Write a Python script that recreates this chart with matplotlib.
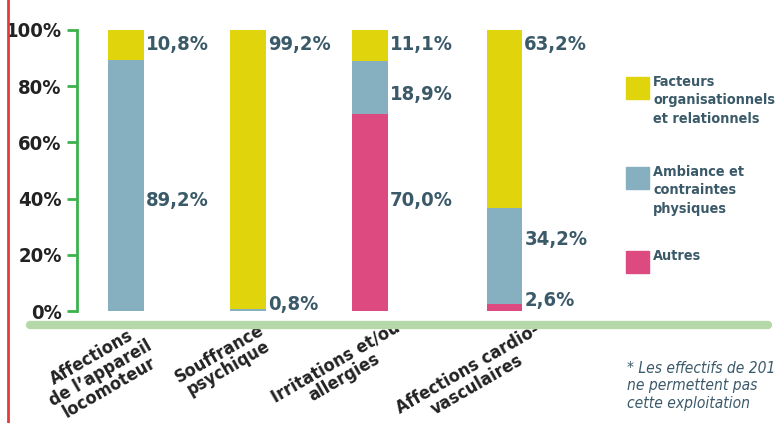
import matplotlib
matplotlib.use('Agg')
import matplotlib.pyplot as plt
from matplotlib.lines import Line2D
from matplotlib.patches import Rectangle

plt.rcParams['font.family'] = ['DejaVu Sans']
plt.rcParams['font.stretch'] = 'condensed'

# data
categories = ["Affections\nde l’appareil\nlocomoteur", "Souffrance\npsychique",
              "Irritations et/ou\nallergies", "Affections cardio-\nvasculaires"]
autres = [0.0, 0.0, 70.0, 2.6]
ambiance = [89.2, 0.8, 18.9, 34.2]
facteurs = [10.8, 99.2, 11.1, 63.2]
series_names = ["Autres", "Ambiance et\ncontraintes\nphysiques",
                "Facteurs\norganisationnels\net relationnels"]
yticks = [0, 20, 40, 60, 80, 100]
note = "* Les effectifs de 2010\nne permettent pas\ncette exploitation"

# label heights (in %) for the value labels next to the bars
label_y_autres = [None, None, 39.5, 3.6]
label_y_ambiance = [39.5, 2.5, 77.2, 25.3]
label_y_facteurs = [94.7, 94.7, 94.7, 94.7]

x = [0, 1, 2, 3.1]
width = 0.29
col_yellow = '#e0d40c'
col_blue = '#86afc0'
col_pink = '#dc4a80'
col_text = '#3b5a69'
col_green = '#3db24b'

fig = plt.figure(figsize=(7.76, 4.23), dpi=100)
ax = fig.add_axes([77 / 776, 1 - 327.9 / 423, (560 - 77) / 776, 0.7076])

bottom2 = [a + b for a, b in zip(autres, ambiance)]
ax.bar(x, autres, width, color=col_pink)
ax.bar(x, ambiance, width, bottom=autres, color=col_blue)
ax.bar(x, facteurs, width, bottom=bottom2, color=col_yellow)

def fmt(v):
    return f"{v:.1f}".replace('.', ',') + '%'

for vals, ys in [(autres, label_y_autres), (ambiance, label_y_ambiance),
                 (facteurs, label_y_facteurs)]:
    for xi, v, yy in zip(x, vals, ys):
        if yy is None or v == 0:
            continue
        ax.text(xi + width / 2 + 0.02, yy, fmt(v), ha='left', va='center',
                fontsize=14.5, fontweight='bold', color=col_text)

ax.set_xlim(-0.4, 3.557)
ax.set_ylim(-6, 100.5)
for s in ['top', 'right', 'bottom']:
    ax.spines[s].set_visible(False)
ax.spines['left'].set_color(col_green)
ax.spines['left'].set_linewidth(2)
ax.spines['left'].set_bounds(0, 100)
ax.set_yticks(yticks)
ax.set_yticklabels([f"{t}%" for t in yticks], fontsize=14.5, fontweight='bold',
                   color='#222222')
ax.tick_params(axis='y', length=7, width=2, color=col_green, pad=4)
ax.set_xticks([])

# category labels, rotated
offsets = [(-25, -45), (-24, -33), (-30, -42), (-32, -49)]
for xi, lab, (dx, dy) in zip(x, categories, offsets):
    ax.annotate(lab, xy=(xi, -6), xycoords='data', xytext=(dx, dy),
                textcoords='offset pixels', ha='center', va='center',
                rotation=30, rotation_mode='anchor', multialignment='center',
                fontsize=13, fontweight='bold', color='#222222',
                linespacing=0.95, annotation_clip=False)

# light green base line
fig.add_artist(Line2D([30 / 776, 768 / 776], [1 - 325 / 423] * 2,
                      color='#b4d8a8', linewidth=6, solid_capstyle='round'))
# red line on the left
fig.add_artist(Line2D([8 / 776, 8 / 776], [0, 1], color='#e63a3a', linewidth=2))

# legend
leg_cols = [col_pink, col_blue, col_yellow]
leg_tops = [251, 167, 77]
for name, c, top in zip(series_names, leg_cols, leg_tops):
    fig.add_artist(Rectangle((626 / 776, 1 - (top + 22) / 423), 23 / 776, 22 / 423,
                             color=c, transform=fig.transFigure))
    fig.text(653 / 776, 1 - (top - 2) / 423, name, ha='left', va='top',
             fontsize=10.4, fontweight='bold', color=col_text, linespacing=1.4)

fig.text(627 / 776, 1 - 361 / 423, note, ha='left', va='top', fontsize=11.2,
         style='italic', color=col_text, linespacing=1.2)

fig.savefig('out.png', dpi=100)
